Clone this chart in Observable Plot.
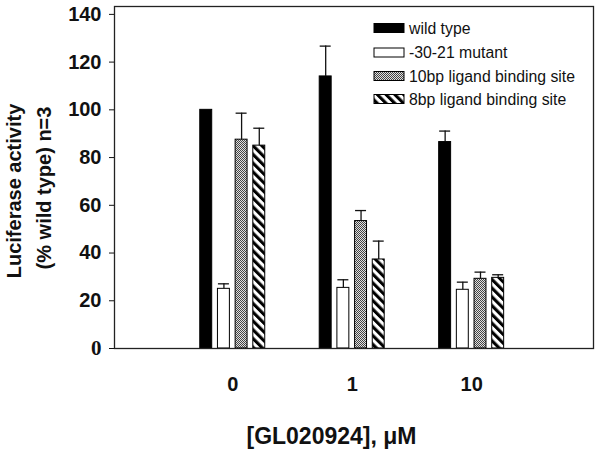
<!DOCTYPE html>
<html>
<head>
<meta charset="utf-8">
<script src="https://cdn.jsdelivr.net/npm/d3@7"></script>
<script src="https://cdn.jsdelivr.net/npm/@observablehq/plot@0.6"></script>
<style>
  html, body { margin: 0; padding: 0; background: #fff; }
  #chart { position: relative; width: 600px; height: 455px; }
  #overlay { position: absolute; left: 0; top: 0; pointer-events: none; }
</style>
</head>
<body>
<div id="chart"></div>
<script>
// ---- data ----
const doses = ["0", "1", "10"];
const seriesNames = ["wild type", "-30-21 mutant", "10bp ligand binding site", "8bp ligand binding site"];
const wildType      = [100, 114, 86.5];
const wildTypeErr   = [0, 12.7, 4.6];
const mutant        = [25, 25.4, 24.6];
const mutantErr     = [2.1, 3.4, 3.2];
const site10bp      = [87.5, 53.4, 29.2];
const site10bpErr   = [11.1, 4.4, 2.8];
const site8bp       = [85, 37.3, 29.6];
const site8bpErr    = [7.3, 7.7, 1.3];
const yTicks = [0, 20, 40, 60, 80, 100, 120, 140];
const yTitle1 = "Luciferase activity";
const yTitle2 = "(% wild type) n=3";
const xTitle = "[GL020924], \u03BCM";

// ---- styling / layout ----
const fills = ["black", "white", "url(#checker)", "url(#hatch)"];
const barOffset = 0.148, barHalf = 0.05, capHalf = 0.046;
const values = [wildType, mutant, site10bp, site8bp];
const errs = [wildTypeErr, mutantErr, site10bpErr, site8bpErr];

const rows = [];
values.forEach((vals, s) => vals.forEach((v, g) => {
  const c = g + (s - 1.5) * barOffset;
  rows.push({s, g, value: v, err: errs[s][g], c});
}));

// pattern definitions
const defs = d3.create("svg").attr("width", 0).attr("height", 0).style("position", "absolute");
const d = defs.append("defs");
const ch = d.append("pattern").attr("id", "checker").attr("patternUnits", "userSpaceOnUse")
  .attr("width", 2).attr("height", 2);
ch.append("rect").attr("width", 2).attr("height", 2).attr("fill", "#e0e0e0");
ch.append("rect").attr("width", 1).attr("height", 1).attr("fill", "#444");
ch.append("rect").attr("x", 1).attr("y", 1).attr("width", 1).attr("height", 1).attr("fill", "#444");
const ht = d.append("pattern").attr("id", "hatch").attr("patternUnits", "userSpaceOnUse")
  .attr("width", 6.2).attr("height", 6.2).attr("patternTransform", "rotate(-45)");
ht.append("rect").attr("width", 6.2).attr("height", 6.2).attr("fill", "white");
ht.append("rect").attr("width", 3.1).attr("height", 6.2).attr("fill", "black");
document.getElementById("chart").appendChild(defs.node());

const font = "'Liberation Sans', Arial, Helvetica, sans-serif";
const serif = "'Liberation Serif', 'Times New Roman', serif";

const marks = [];
seriesNames.forEach((name, s) => {
  marks.push(Plot.rectY(rows.filter(r => r.s === s), {
    x1: r => r.c - barHalf, x2: r => r.c + barHalf, y1: 0, y2: "value",
    fill: fills[s], stroke: "black", strokeWidth: 1, insetLeft: 0, insetRight: 0
  }));
});
const withErr = rows.filter(r => r.err > 0);
marks.push(Plot.ruleX(withErr, {x: "c", y1: "value", y2: r => r.value + r.err, stroke: "#111", strokeWidth: 1.3}));
marks.push(Plot.ruleY(withErr, {y: r => r.value + r.err, x1: r => r.c - capHalf, x2: r => r.c + capHalf, stroke: "#111", strokeWidth: 1.3}));
marks.push(Plot.frame({stroke: "#222", strokeWidth: 1.3}));
// y axis: the reference prints its "0" in a serif face
marks.push(Plot.axisY(yTicks.filter(t => t !== 0), {tickSize: 5, tickPadding: 8, fontSize: 20, fontWeight: "bold", label: null}));
marks.push(Plot.axisY(yTicks.filter(t => t === 0), {tickSize: 5, tickPadding: 8, fontSize: 21, fontWeight: "bold", fontFamily: serif, label: null}));
marks.push(Plot.axisX([0, 1, 2], {tickFormat: i => doses[i], tickSize: 0, tickPadding: 28, fontSize: 20, fontWeight: "bold", label: null}));

const plot = Plot.plot({
  width: 600, height: 455,
  marginLeft: 114, marginRight: 7, marginTop: 6, marginBottom: 107,
  style: {fontFamily: font, background: "white", color: "#111", overflow: "visible"},
  x: {domain: [-0.99, 3.02]},
  y: {domain: [0, 143.3]},
  marks
});
document.getElementById("chart").appendChild(plot);

// titles and legend overlay
const ov = d3.create("svg").attr("id", "overlay").attr("width", 600).attr("height", 455)
  .attr("font-family", font).attr("fill", "#111");
ov.append("text").attr("transform", "translate(14,191) rotate(-90)").attr("text-anchor", "middle")
  .attr("dy", "0.35em").attr("font-size", 20).attr("font-weight", "bold").text(yTitle1);
ov.append("text").attr("transform", "translate(44,188) rotate(-90)").attr("text-anchor", "middle")
  .attr("dy", "0.35em").attr("font-size", 20).attr("font-weight", "bold").text(yTitle2);
ov.append("text").attr("x", 331.5).attr("y", 436).attr("text-anchor", "middle")
  .attr("dy", "0.35em").attr("font-size", 23).attr("font-weight", "bold").text(xTitle);

const legY = [28, 52.5, 76, 99];
seriesNames.forEach((name, s) => {
  ov.append("rect").attr("x", 374).attr("y", legY[s] - 4.5).attr("width", 30).attr("height", 9)
    .attr("fill", fills[s]).attr("stroke", "black").attr("stroke-width", 1);
  ov.append("text").attr("x", 409).attr("y", legY[s]).attr("dy", "0.35em")
    .attr("font-size", 15.8).text(name);
});
document.getElementById("chart").appendChild(ov.node());
</script>
</body>
</html>
